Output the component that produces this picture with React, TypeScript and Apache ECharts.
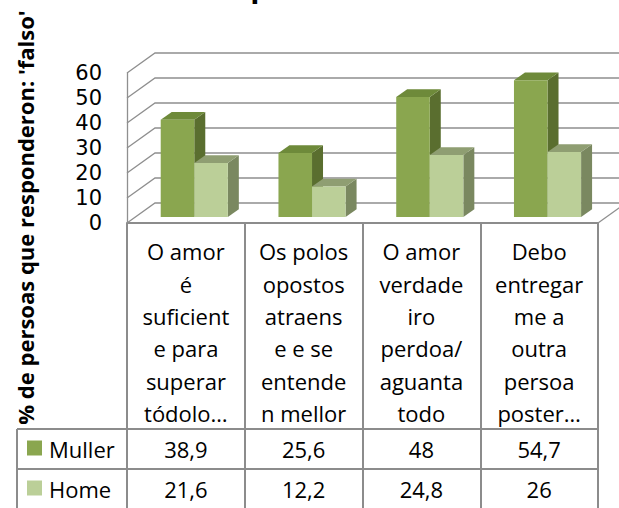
import React, { useEffect, useRef } from 'react';
import * as echarts from 'echarts';

const categories = [
  'O amor\né\nsuficient\ne para\nsuperar\ntódolo…',
  'Os polos\nopostos\natraens\ne e se\nentende\nn mellor',
  'O amor\nverdade\niro\nperdoa/\naguanta\ntodo',
  'Debo\nentregar\nme a\noutra\npersoa\nposter…',
];
const seriesNames = ['Muller', 'Home'];
const mullerValues = [38.9, 25.6, 48, 54.7];
const homeValues = [21.6, 12.2, 24.8, 26];
const yTicks = [0, 10, 20, 30, 40, 50, 60];
const titleText = 'por sexo';
const yAxisTitle = "% de persoas que responderon: 'falso'";

const FONT = "'Open Sans', sans-serif";
const TICK_FONT = "'DejaVu Sans', sans-serif";
const GRID_LINE = '#8f8f8f';
const TABLE_LINE = '#8c8c8c';
const DEPTH = [28, -20];
const BAR_PLANE = 0.3;
const BAR_DEPTH = [11, -7.7];

const palettes = [
  { front: '#8AA64F', top: '#6E8A3A', side: '#5A6E2F' },
  { front: '#BBCF98', top: '#8F9E72', side: '#7A8860' },
];

const fmt = (v: number) => String(v).replace('.', ',');

function barRenderer(sIdx: number) {
  return (params: any, api: any) => {
    const i = api.value(0);
    const v = api.value(1);
    const base = api.coord([i, 0]);
    const top = api.coord([i, v]);
    const band = api.size([1, 0])[0];
    const bw = band * 0.285;
    const cx = base[0] + DEPTH[0] * BAR_PLANE;
    const x0 = sIdx === 0 ? cx - bw : cx;
    const x1 = x0 + bw;
    const yb = base[1] + DEPTH[1] * BAR_PLANE;
    const yt = top[1] + DEPTH[1] * BAR_PLANE;
    const [dx, dy] = BAR_DEPTH;
    const p = palettes[sIdx];
    return {
      type: 'group',
      children: [
        { type: 'polygon', shape: { points: [[x1, yt], [x1 + dx, yt + dy], [x1 + dx, yb + dy], [x1, yb]] }, style: { fill: p.side } },
        { type: 'polygon', shape: { points: [[x0, yt], [x1, yt], [x1 + dx, yt + dy], [x0 + dx, yt + dy]] }, style: { fill: p.top } },
        { type: 'rect', shape: { x: x0, y: yt, width: bw, height: yb - yt }, style: { fill: p.front } },
      ],
    };
  };
}

const ROW_Y = [448.5, 488.5];

function rowRenderer(sIdx: number) {
  return (params: any, api: any) => {
    const i = api.value(0);
    const v = api.value(1);
    const x = api.coord([i, 0])[0];
    return {
      type: 'text',
      x,
      y: ROW_Y[sIdx],
      style: { text: fmt(v), fill: '#000', font: `22px ${FONT}`, align: 'center', verticalAlign: 'middle' },
    };
  };
}

function wallRenderer(params: any, api: any) {
  const cs = params.coordSys;
  const t = api.value(1);
  const y = api.coord([0, t])[1];
  const children: any[] = [
    {
      type: 'polyline',
      shape: { points: [[cs.x, y], [cs.x + DEPTH[0], y + DEPTH[1]], [cs.x + cs.width + DEPTH[0], y + DEPTH[1]]] },
      style: { stroke: GRID_LINE, lineWidth: 1.3, fill: null },
    },
  ];
  if (t === 0) {
    children.push({
      type: 'line',
      shape: { x1: cs.x + cs.width, y1: y, x2: cs.x + cs.width + DEPTH[0], y2: y + DEPTH[1] },
      style: { stroke: GRID_LINE, lineWidth: 1.3 },
    });
  }
  return { type: 'group', children };
}

export default function App() {
  const ref = useRef<HTMLDivElement>(null);
  useEffect(() => {
    document.body.style.margin = '0';
    const chart = echarts.init(ref.current!, null, { renderer: 'svg' });
    const gridLeft = 127;
    const gridRight = 598;
    const tableRows = [429, 469, 510];
    const graphic: any[] = [
      {
        type: 'text', x: 314, y: -14.5,
        style: { text: titleText, font: `bold 30px ${FONT}`, fill: '#000', align: 'center', verticalAlign: 'middle' },
      },
      {
        type: 'text', x: 24.5, y: 217.5, rotation: Math.PI / 2,
        style: { text: yAxisTitle, font: `bold 22px ${FONT}`, fill: '#000', align: 'center', verticalAlign: 'middle' },
      },
      ...tableRows.map((y) => ({
        type: 'line', shape: { x1: 17, y1: y, x2: gridRight, y2: y },
        style: { stroke: TABLE_LINE, lineWidth: 2 },
      })),
      {
        type: 'line', shape: { x1: 17, y1: tableRows[0], x2: 17, y2: tableRows[2] },
        style: { stroke: TABLE_LINE, lineWidth: 2 },
      },
      ...seriesNames.flatMap((name, k) => [
        { type: 'rect', shape: { x: 27, y: ROW_Y[k] - 8, width: 15, height: 15 }, style: { fill: palettes[k].front } },
        {
          type: 'text', x: 49, y: ROW_Y[k],
          style: { text: name, font: `22px ${FONT}`, fill: '#000', align: 'left', verticalAlign: 'middle' },
        },
      ]),
    ];
    const values = [mullerValues, homeValues];
    chart.setOption({
      animation: false,
      grid: { left: gridLeft, top: 73, width: gridRight - gridLeft, height: 150, containLabel: false },
      xAxis: {
        type: 'category',
        data: categories,
        axisLine: { show: true, lineStyle: { color: TABLE_LINE, width: 2 } },
        axisTick: { show: true, interval: 0, length: 287, lineStyle: { color: TABLE_LINE, width: 2 } },
        axisLabel: { interval: 0, margin: 12, fontSize: 22, lineHeight: 32.4, color: '#000', fontFamily: FONT },
        splitLine: { show: false },
      },
      yAxis: {
        type: 'value', min: 0, max: 60, interval: 10,
        axisLine: { show: true, lineStyle: { color: GRID_LINE, width: 1.3 } },
        axisTick: { show: false },
        splitLine: { show: false },
        axisLabel: {
          fontSize: 21, fontFamily: TICK_FONT, color: '#000', margin: 25,
          formatter: (v: number) => (yTicks.includes(v) ? String(v) : ''),
        },
      },
      graphic,
      series: [
        {
          type: 'custom', name: 'wall', renderItem: wallRenderer, silent: true,
          data: yTicks.map((t) => [0, t]),
        },
        ...values.map((vals, k) => ({
          type: 'custom', name: seriesNames[k], renderItem: barRenderer(k),
          data: vals.map((v, i) => [i, v]),
        })),
        ...values.map((vals, k) => ({
          type: 'custom', name: seriesNames[k] + ' table', renderItem: rowRenderer(k),
          data: vals.map((v, i) => [i, v]),
        })),
      ],
    });
    return () => chart.dispose();
  }, []);
  return <div ref={ref} style={{ width: 619, height: 508 }} />;
}
